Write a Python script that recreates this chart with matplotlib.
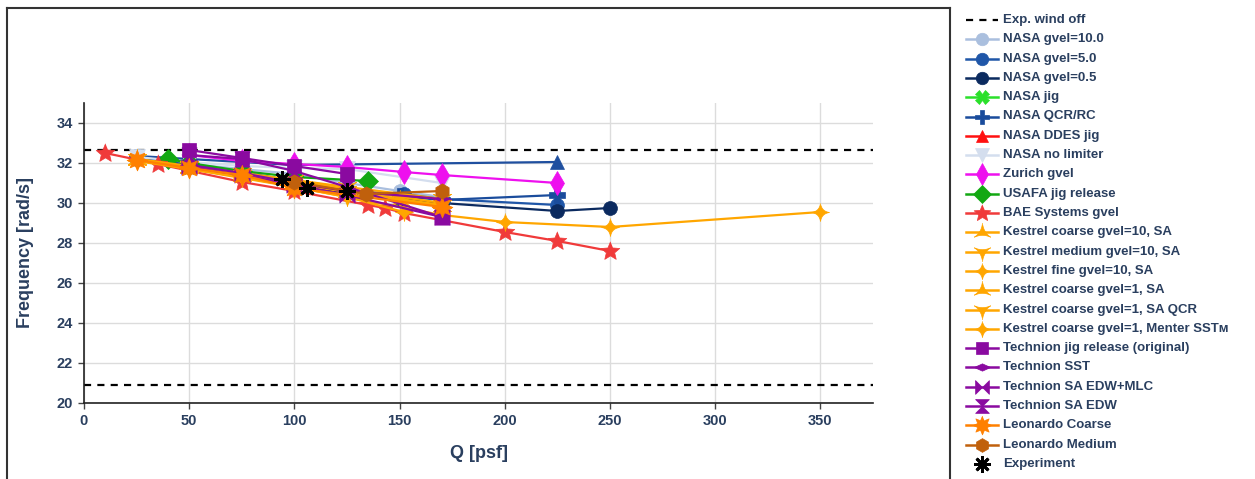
import numpy as np
import matplotlib
matplotlib.use("Agg")
import matplotlib.pyplot as plt
from matplotlib.lines import Line2D

plt.rcParams['font.family'] = ['Liberation Sans', 'DejaVu Sans']
TXT = '#2a3f5f'

# ---------------- data ----------------
wind_off_levels = [32.65, 20.9]
q_range = [0, 375]

q_nasa10 = [25, 50, 75, 100, 125, 150, 170]
f_nasa10 = [32.3, 31.95, 31.7, 31.45, 31.0, 30.6, 30.3]

q_nasa5 = [25, 50, 75, 100, 125, 152, 170, 225]
f_nasa5 = [32.3, 31.9, 31.55, 31.1, 30.6, 30.45, 30.2, 29.9]

q_nasa05 = [25, 50, 75, 100, 125, 150, 170, 225, 250]
f_nasa05 = [32.2, 31.8, 31.4, 30.95, 30.5, 30.2, 30.0, 29.6, 29.75]

q_nasa_jig = [50, 75, 100]
f_nasa_jig = [31.85, 31.5, 31.1]

q_nasa_qcr = [25, 50, 75, 100, 125, 150, 170, 225]
f_nasa_qcr = [32.3, 31.9, 31.5, 31.1, 30.65, 30.35, 30.15, 30.4]

q_nasa_ddes = [25, 100, 225]
f_nasa_ddes = [32.35, 31.9, 32.05]

q_nasa_nolim = [25, 50, 75, 100, 125, 170]
f_nasa_nolim = [32.3, 32.05, 31.85, 31.75, 31.7, 31.0]

q_zurich = [50, 75, 100, 125, 152, 170, 225]
f_zurich = [32.4, 32.1, 31.95, 31.8, 31.55, 31.4, 31.0]

q_usafa = [40, 50, 75, 100, 135]
f_usafa = [32.2, 32.0, 31.6, 31.3, 31.1]

q_bae = [10, 35, 75, 100, 135, 143, 152, 200, 225, 250]
f_bae = [32.5, 31.95, 31.05, 30.6, 29.9, 29.75, 29.5, 28.55, 28.1, 27.6]

q_k_c10 = [25, 50, 75, 100, 125, 150, 170]
f_k_c10 = [32.15, 31.75, 31.35, 30.95, 30.55, 30.15, 29.85]

q_k_m10 = [25, 50, 75, 100, 125, 150, 170]
f_k_m10 = [32.2, 31.8, 31.4, 31.0, 30.6, 30.2, 29.9]

q_k_f10 = [25, 50, 75, 100, 125, 170, 200, 250, 350]
f_k_f10 = [32.1, 31.7, 31.25, 30.8, 30.3, 29.4, 29.05, 28.8, 29.55]

q_k_c1 = [25, 50, 75, 100, 125, 170]
f_k_c1 = [32.2, 31.8, 31.45, 31.1, 30.7, 30.0]

q_k_c1q = [25, 50, 75, 100, 125, 170]
f_k_c1q = [32.2, 31.85, 31.5, 31.15, 30.8, 30.2]

q_k_c1m = [25, 50, 75, 100, 125, 152]
f_k_c1m = [32.15, 31.7, 31.3, 30.8, 30.3, 29.55]

q_tech_jig = [50, 75, 100, 125]
f_tech_jig = [32.65, 32.25, 31.85, 31.45]

q_tech_sst = [50, 75, 100, 125, 170]
f_tech_sst = [31.9, 31.5, 31.0, 30.6, 30.2]

q_tech_mlc = [50, 75, 100, 125, 170]
f_tech_mlc = [31.8, 31.4, 30.9, 30.4, 29.3]

q_tech_edw = [50, 75, 100, 125, 170]
f_tech_edw = [32.4, 32.2, 31.6, 30.8, 29.3]

q_leo_c = [25, 50, 75, 100, 170]
f_leo_c = [32.15, 31.75, 31.4, 30.75, 29.8]

q_leo_m = [100, 134, 170]
f_leo_m = [31.05, 30.45, 30.6]

q_exp = [94, 106, 125]
f_exp = [31.2, 30.75, 30.6]

x_ticks = [0, 50, 100, 150, 200, 250, 300, 350]
y_ticks = [20, 22, 24, 26, 28, 30, 32, 34]

# ---------------- marker shapes ----------------
def concave_poly(n, rot, inner=0.35, pts=8):
    """Regular n-gon whose sides are bowed inward (plotly 'star-*' shapes)."""
    ang = np.deg2rad(rot) + np.arange(n) * 2 * np.pi / n
    corners = np.c_[np.cos(ang), np.sin(ang)]
    verts = []
    for i in range(n):
        a, b = corners[i], corners[(i + 1) % n]
        mid = (a + b) / 2 * inner
        for t in np.linspace(0, 1, pts, endpoint=False):
            p = (1 - t) ** 2 * a + 2 * (1 - t) * t * mid + t ** 2 * b
            verts.append(p)
    return np.array(verts)

def star_n(n, inner=0.5, rot=90):
    ang = np.deg2rad(rot) + np.arange(2 * n) * np.pi / n
    r = np.where(np.arange(2 * n) % 2 == 0, 1.0, inner)
    return np.c_[r * np.cos(ang), r * np.sin(ang)]

M_STAR_TRI_UP = concave_poly(3, 90, 0.2)
M_STAR_TRI_DN = concave_poly(3, -90, 0.2)
M_STAR_DIAMOND = concave_poly(4, 90, 0.25)
M_HOURGLASS = [(-1, 1), (1, 1), (-1, -1), (1, -1), (-1, 1)]
M_BOWTIE = [(-1, 1), (-1, -1), (1, 1), (1, -1), (-1, 1)]
M_DIAMOND_WIDE = [(-1, 0), (0, 0.45), (1, 0), (0, -0.45), (-1, 0)]
M_STAR8 = star_n(8, 0.55)
M_STAR5 = star_n(5, 0.45)
M_ASTERISK = (8, 2, 0)

# ---------------- styles ----------------
series = [
    # label, q, f, color, marker, size, legend color
    ("NASA gvel=10.0", q_nasa10, f_nasa10, '#aabfde', 'o', 10, None),
    ("NASA gvel=5.0", q_nasa5, f_nasa5, '#1f56a8', 'o', 10, None),
    ("NASA gvel=0.5", q_nasa05, f_nasa05, '#0b2a5f', 'o', 10, None),
    ("NASA jig", q_nasa_jig, f_nasa_jig, '#2ae02a', 'X', 11, None),
    ("NASA QCR/RC", q_nasa_qcr, f_nasa_qcr, '#1a4c9c', 'P', 11, None),
    ("NASA DDES jig", q_nasa_ddes, f_nasa_ddes, '#1f4f9f', '^', 10, '#ff1010'),
    ("NASA no limiter", q_nasa_nolim, f_nasa_nolim, '#d4deee', 'v', 11, None),
    ("Zurich gvel", q_zurich, f_zurich, '#ee10ee', 'd', 12, None),
    ("USAFA jig release", q_usafa, f_usafa, '#12a812', 'D', 10, None),
    ("BAE Systems gvel", q_bae, f_bae, '#f03a3a', M_STAR5, 14, None),
    ("Kestrel coarse gvel=10, SA", q_k_c10, f_k_c10, '#ffa600', M_STAR_TRI_UP, 15, None),
    ("Kestrel medium gvel=10, SA", q_k_m10, f_k_m10, '#ffa600', M_STAR_TRI_DN, 15, None),
    ("Kestrel fine gvel=10, SA", q_k_f10, f_k_f10, '#ffa600', M_STAR_DIAMOND, 13, None),
    ("Kestrel coarse gvel=1, SA", q_k_c1, f_k_c1, '#ffa600', M_STAR_TRI_UP, 15, None),
    ("Kestrel coarse gvel=1, SA QCR", q_k_c1q, f_k_c1q, '#ffa600', M_STAR_TRI_DN, 15, None),
    ("Kestrel coarse gvel=1, Menter SST\u1d0d", q_k_c1m, f_k_c1m, '#ffa600', M_STAR_DIAMOND, 13, None),
    ("Technion jig release (original)", q_tech_jig, f_tech_jig, '#8a0aa0', 's', 10, None),
    ("Technion SST", q_tech_sst, f_tech_sst, '#8a0aa0', M_DIAMOND_WIDE, 13, None),
    ("Technion SA EDW+MLC", q_tech_mlc, f_tech_mlc, '#8a0aa0', M_BOWTIE, 11, None),
    ("Technion SA EDW", q_tech_edw, f_tech_edw, '#8a0aa0', M_HOURGLASS, 11, None),
    ("Leonardo Coarse", q_leo_c, f_leo_c, '#ff8000', M_STAR8, 15, None),
    ("Leonardo Medium", q_leo_m, f_leo_m, '#c0600c', 'h', 11, None),
]

# ---------------- figure ----------------
W, H = 1255, 479
fig = plt.figure(figsize=(W / 100, H / 100), dpi=100)
fig.patch.set_facecolor('white')

x0, x1, y0, y1 = 84, 873, 103, 403
ax = fig.add_axes([x0 / W, 1 - y1 / H, (x1 - x0) / W, (y1 - y0) / H])
ax.set_xlim(q_range)
ax.set_ylim(20, 35)
ax.set_xticks(x_ticks)
ax.set_yticks(y_ticks)
ax.grid(True, color='#dcdcdc', linewidth=1.0, zorder=0)
ax.set_axisbelow(True)
for s in ['top', 'right']:
    ax.spines[s].set_visible(False)
for s in ['left', 'bottom']:
    ax.spines[s].set_color('#222222')
    ax.spines[s].set_linewidth(1.2)
ax.tick_params(axis='both', direction='out', length=4, width=1, color='#444444',
               labelsize=10.5, labelcolor=TXT, pad=4)
for lab in ax.get_xticklabels() + ax.get_yticklabels():
    lab.set_fontweight('bold')
ax.set_xlabel("Q [psf]", fontsize=13, fontweight='bold', color=TXT, labelpad=12)
ax.set_ylabel("Frequency [rad/s]", fontsize=13, fontweight='bold', color=TXT, labelpad=16)

for lvl in wind_off_levels:
    ax.plot(q_range, [lvl, lvl], color='black', linestyle=(0, (3.2, 2.8)), linewidth=1.6,
            zorder=2, clip_on=False)

z = 3
for label, q, f, col, mk, ms, _ in series:
    ax.plot(q, f, color=col, linewidth=1.6, marker=mk, markersize=ms,
            markerfacecolor=col, markeredgecolor=col, markeredgewidth=0.5, zorder=z)
    z += 1

ax.plot(q_exp, f_exp, linestyle='none', marker=M_ASTERISK, markersize=12,
        markeredgecolor='black', markeredgewidth=2.0, color='black', zorder=z)

# ---------------- legend ----------------
def fx(px):
    return px / W

def fy(py):
    return 1 - py / H

lx0, lx1, lxm, ltext = 966, 998, 982, 1003
row0, step = 20, 19.3

# (label, colour, marker, size, line kind, is_asterisk)
entries = [("Exp. wind off", 'black', None, 0, 'dash', False)]
for label, q, f, col, mk, ms, lcol in series:
    entries.append((label, lcol or col, mk, ms, 'solid', False))
entries.append(("Experiment", 'black', M_ASTERISK, 12, 'none', True))

for i, (label, col, mk, ms, ls, is_ast) in enumerate(entries):
    yy = fy(row0 + i * step)
    if ls == 'dash':
        fig.add_artist(Line2D([fx(lx0), fx(lx1)], [yy, yy], color='black',
                              linestyle=(0, (3.2, 2.8)), linewidth=1.6,
                              transform=fig.transFigure))
    elif ls == 'solid':
        fig.add_artist(Line2D([fx(lx0), fx(lx1)], [yy, yy], color=col, linewidth=1.8,
                              transform=fig.transFigure))
    if is_ast:
        fig.add_artist(Line2D([fx(lxm)], [yy], linestyle='none', marker=mk,
                              markersize=ms, markeredgecolor='black', markeredgewidth=2.0,
                              transform=fig.transFigure))
    elif mk is not None:
        fig.add_artist(Line2D([fx(lxm)], [yy], linestyle='none', marker=mk,
                              markersize=ms * 0.9, markerfacecolor=col, markeredgecolor=col,
                              markeredgewidth=0.5, transform=fig.transFigure))
    fig.text(fx(ltext), yy, label, fontsize=9.5, fontweight='bold', color=TXT,
             va='center', ha='left')

# outer frame around the plotting region
frame_kw = dict(color='#333333', linewidth=1.5, transform=fig.transFigure)
fig.add_artist(Line2D([fx(7), fx(7)], [fy(8), 0], **frame_kw))
fig.add_artist(Line2D([fx(7), fx(950)], [fy(8), fy(8)], **frame_kw))
fig.add_artist(Line2D([fx(950), fx(950)], [fy(8), 0], **frame_kw))

fig.savefig("out.png", dpi=100, facecolor='white')
